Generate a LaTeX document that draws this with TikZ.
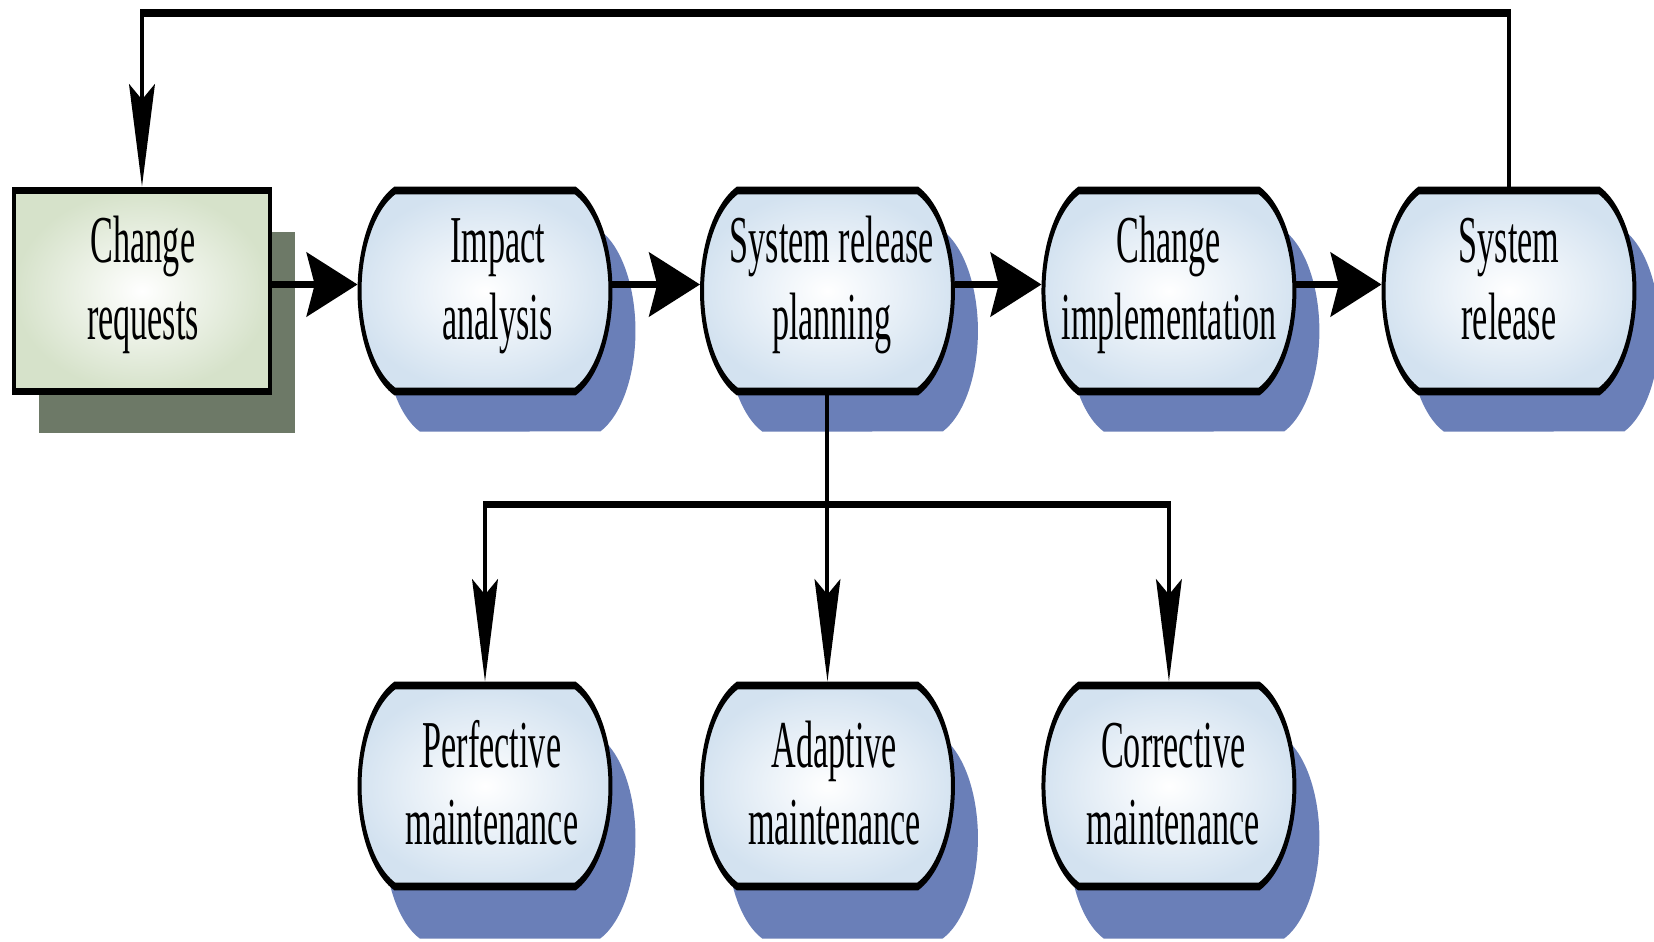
\documentclass[tikz,border=0pt]{standalone}
\usepackage{fontspec}
\setmainfont{Liberation Serif}
\usetikzlibrary{shapes.misc,shadows,arrows.meta}

\definecolor{pillblue}{HTML}{D3E2F0}
\definecolor{pillshadow}{HTML}{6A7FB8}
\definecolor{boxgreen}{HTML}{D6E2CA}
\definecolor{boxshadow}{HTML}{6D7967}

% height of the strut that opens the first line (sets the text's vertical place)
\newlength\headpad
\setlength\headpad{47pt}

% two centred lines of zero width; the optional argument nudges both lines
% right by half its value
\newcommand\twolines[3][0pt]{%
  \makebox[0pt]{\hspace{#1}\rule{0pt}{\headpad}#2}\\%
  \makebox[0pt]{\hspace{#1}#3\rule[-27pt]{0pt}{0pt}}}

\tikzset{
  htip/.tip={Stealth[length=100pt,width=64pt,inset=16pt]},
  vtip/.tip={Stealth[length=102pt,width=50pt,inset=15pt]},
  label font/.style={font=\fontsize{67}{77}\selectfont},
  pill/.style={rounded rectangle, rounded rectangle arc length=138,
    draw=black, line width=7.8pt, minimum width=492pt, minimum height=201pt,
    inner sep=0pt, align=center, label font,
    inner color=white, outer color=pillblue},
  pillshade/.style={drop shadow={shadow xshift=49pt, shadow yshift=#1,
    fill=pillshadow, opacity=1}},
  lowtext/.style={execute at begin node={\setlength\headpad{66pt}}},
  reqbox/.style={rectangle, draw=black, line width=7.8pt,
    minimum width=502pt, minimum height=201pt, inner sep=0pt, align=center,
    label font, inner color=white, outer color=boxgreen,
    drop shadow={shadow xshift=49pt, shadow yshift=-41pt,
    fill=boxshadow, opacity=1}},
  conn/.style={line width=7.8pt, draw=black},
}

\begin{document}
\begin{tikzpicture}[x=1pt,y=1pt]
\fill[white] (0,0) rectangle (1654,-942);
\useasboundingbox (0,0) rectangle (1654,-942);

\begin{scope}[transform canvas={xscale=0.51}]
  % process row
  \node[reqbox] (CR) at (278.4,-291) {\twolines[4pt]{Change}{requests}};
  \node[pill, pillshade=-40pt] (IA)  at (951,-291)    {\twolines[49pt]{Impact}{analysis}};
  \node[pill, pillshade=-40pt] (SRP) at (1622.5,-291) {\twolines[17pt]{System release}{planning}};
  \node[pill, pillshade=-40pt] (CI)  at (2292,-291)   {\twolines{Change}{implementation}};
  \node[pill, pillshade=-40pt] (SR)  at (2958.8,-291) {\twolines{System}{release}};

  % maintenance kinds
  \node[pill, lowtext, pillshade=-52pt] (PM) at (951,-786)    {\twolines[27pt]{Perfective}{maintenance}};
  \node[pill, lowtext, pillshade=-52pt] (AM) at (1622.5,-786) {\twolines[27pt]{Adaptive}{maintenance}};
  \node[pill, lowtext, pillshade=-52pt] (CM) at (2292,-786)   {\twolines[17pt]{Corrective}{maintenance}};

  \coordinate (loop) at (0,-13);
  \coordinate (fork) at (0,-504.5);

  % main flow
  \foreach \a/\b in {CR/IA, IA/SRP, SRP/CI, CI/SR}
    \draw[conn,-htip] ([yshift=6.5pt]\a.east) -- ([yshift=6.5pt]\b.west);

  % feedback from release to new requests
  \draw[conn,-vtip] (SR.north) -- (SR.north |- loop) -| (CR.north);

  % planning splits into the maintenance kinds
  \draw[conn,-vtip] (SRP.south) -- (AM.north);
  \draw[conn,-vtip] (SRP.south |- fork) -| (PM.north);
  \draw[conn,-vtip] (SRP.south |- fork) -| (CM.north);
\end{scope}
\end{tikzpicture}
\end{document}
